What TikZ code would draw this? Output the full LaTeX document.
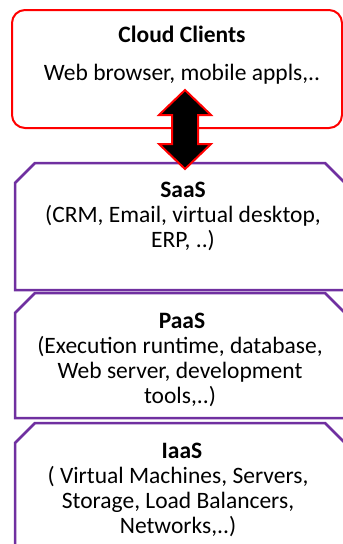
\documentclass[tikz,border=0pt]{standalone}
\usepackage{fontspec}
\setmainfont{Carlito}
\usetikzlibrary{positioning}
\definecolor{layerpurple}{RGB}{112,48,160}
\definecolor{clientred}{RGB}{255,0,0}
\newcommand{\SnipSize}{20}

\begin{document}
\begin{tikzpicture}[x=1pt,y=-1pt,
    cloudbox/.style={draw=clientred, line width=2pt, rounded corners=13pt},
    layerbox/.style={draw=layerpurple, line width=2.5pt, fill=white},
    updownarrow/.style={draw=clientred, fill=black, line width=2pt},
    boxtitle/.style={font=\fontsize{23.5}{25}\selectfont\bfseries, inner sep=0pt, anchor=base},
    boxtext/.style={font=\fontsize{23.5}{25}\selectfont, inner sep=0pt, align=center, anchor=base}]
  \useasboundingbox (0,0) rectangle (343,544);

  % draw cloud clients box
  \draw[cloudbox] (12,10) rectangle (342,128);
  \node[boxtitle] (clients) at (182,42) {Cloud Clients};
  \node[boxtext] (clientsdesc) at (182,80) {Web browser, mobile appls,..};

  % draw layer boxes, top corners snipped
  \foreach \ytop/\ybot in {163/290, 293/418, 423/560}
  \draw[layerbox] (15,\ybot) -- (15,\ytop+\SnipSize) -- (15+\SnipSize,\ytop)
      -- (345-\SnipSize,\ytop) -- (345,\ytop+\SnipSize) -- (345,\ybot) -- cycle;

  % up-down arrow between clients and saas
  \coordinate (arrowtop) at (185,90);
  \coordinate (arrowbot) at (185,169);
  \draw[updownarrow] (arrowtop) -- ++(26,25) -- ++(-13,0) -- ++(0,29) -- ++(13,0)
      -- (arrowbot) -- ++(-26,-25) -- ++(13,0) -- ++(0,-29) -- ++(-13,0) -- cycle;

  % layer texts (base of a text block = its last line)
  \node[boxtitle] (saas) at (183,197) {SaaS};
  \node[boxtext] (saasdesc) at (183,247) {(CRM, Email, virtual desktop,\\ERP, ..)};

  \node[boxtitle] (paas) at (182,328) {PaaS};
  \node[boxtext] (paasdesc) at (180,403) {(Execution runtime, database,\\Web server, development\\tools,..)};

  \node[boxtitle] (iaas) at (182,458) {IaaS};
  \node[boxtext] (iaasdesc) at (178,533) {( Virtual Machines, Servers,\\Storage, Load Balancers,\\Networks,..)};

\end{tikzpicture}
\end{document}
